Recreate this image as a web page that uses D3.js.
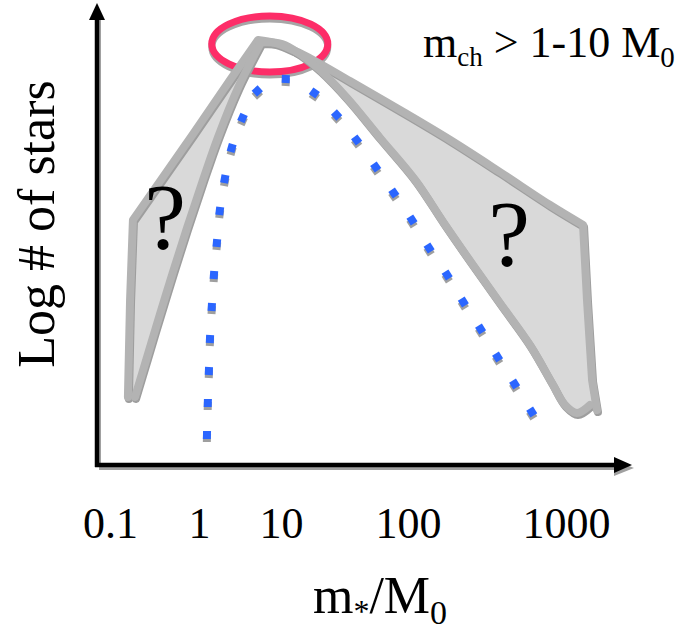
<!DOCTYPE html>
<html><head><meta charset="utf-8">
<script src="https://cdn.jsdelivr.net/npm/d3@7"></script>
<style>body{margin:0;background:#fff}svg{display:block}</style>
</head><body><svg id="c" width="695" height="631"></svg>
<script>
// ---------- data ----------
const tickMasses = [0.1, 1, 10, 100, 1000];
const tickLabels = ["0.1", "1", "10", "100", "1000"];

// outer (flat) envelope of the uncertain IMF band: mass [M0], log N [arb.]
const outerMass = [0.159, 0.168, 0.181, 0.217, 0.857, 2.39, 5.24, 8.45, 12.9, 17.9, 34.9, 86.5, 185, 382, 792, 1282, 1358, 1462, 1570];
const outerLogN = [6.8, 16.5, 24.5, 25.5, 33.1, 38.5, 42.5, 42.2, 41.4, 40.5, 38.4, 35.5, 32.5, 29.3, 26.0, 24.0, 16.5, 8.5, 5.5];

// inner (steep) envelope
const innerMass = [0.191, 0.261, 0.365, 0.510, 0.733, 1.088, 1.71, 2.99, 5.74, 10.2, 14.1, 20.3, 33.1, 60.3, 111, 167, 250, 382, 591, 815, 986, 1174, 1419];
const innerLogN = [6.8, 10.8, 15.1, 19.3, 23.7, 28.2, 32.8, 37.7, 42.3, 42.1, 41.1, 39.5, 36.7, 32.7, 28.5, 24.3, 20.3, 16.2, 12.0, 8.2, 6.0, 5.2, 6.0];

// dotted (present-day) IMF
const dotMass = [1.25, 1.28, 1.32, 1.36, 1.43, 1.52, 1.65, 1.79, 2.06, 2.50, 3.39, 5.14, 10.9, 18.3, 27.4, 39.4, 55.7, 77.4, 106, 136, 177, 224, 288, 369, 473, 607];
const dotLogN = [3.0, 6.2, 9.4, 12.6, 15.8, 19.0, 22.2, 25.4, 28.6, 31.7, 34.7, 37.4, 38.6, 37.2, 35.0, 32.5, 29.8, 27.2, 24.5, 21.7, 19.0, 16.3, 13.6, 10.8, 8.1, 5.3];

// characteristic mass highlight
const peakMass = 7.3, peakLogN = 42.1;
const questionMass = [0.415, 436];
const questionLogN = [21.7, 20.0];

// ---------- scales ----------
const svg = d3.select("#c");
const xs = d3.scaleLinear().domain(tickMasses.map(Math.log10)).range([110, 199, 281, 408, 566]);
const x = m => xs(Math.log10(m));
const y = d3.scaleLinear().domain([0, 46]).range([465, 5]);
const serif = "'Liberation Serif','DejaVu Serif',serif";

// ---------- highlight ellipse ----------
const cx = x(peakMass), cy = y(peakLogN);
svg.append("ellipse").attr("cx", cx).attr("cy", cy + 3).attr("rx", 58).attr("ry", 28)
  .attr("fill", "none").attr("stroke", "#a6a6a6").attr("stroke-width", 7);
svg.append("ellipse").attr("cx", cx).attr("cy", cy).attr("rx", 58).attr("ry", 28)
  .attr("fill", "none").attr("stroke", "#fd2d68").attr("stroke-width", 7);

// ---------- band ----------
const outerPts = outerMass.map((m, i) => [x(m), y(outerLogN[i])]);
const innerPts = innerMass.map((m, i) => [x(m), y(innerLogN[i])]);
const lin = d3.line();
const crv = d3.line().curve(d3.curveCatmullRom.alpha(0.5));
function pieced(pts, pieces) {
  let d = "";
  pieces.forEach(([a, b, c], k) => {
    const s = (c ? crv : lin)(pts.slice(a, b + 1));
    d += k === 0 ? s : "L" + s.slice(1);
  });
  return d;
}
const nI = innerPts.length - 1, peakI = 8;
const outerD = pieced(outerPts, [[0, 3, false], [3, 6, false], [6, 15, true], [15, 18, false]]);
const innerD = pieced(innerPts, [[0, peakI, true], [peakI, nI, true]]);
const innerRevD = pieced(innerPts.slice().reverse(), [[0, nI - peakI, true], [nI - peakI, nI, true]]);
svg.append("path").attr("d", outerD + "L" + innerRevD.slice(1) + "Z")
  .attr("fill", "#d9d9d9");
[outerD, innerD].forEach(d => {
  svg.append("path").attr("d", d).attr("transform", "translate(1,2)")
    .attr("fill", "none").attr("stroke", "#9e9e9e").attr("stroke-width", 8)
    .attr("stroke-linejoin", "round").attr("stroke-linecap", "round");
});
[outerD, innerD].forEach(d => {
  svg.append("path").attr("d", d)
    .attr("fill", "none").attr("stroke", "#b3b3b3").attr("stroke-width", 8)
    .attr("stroke-linejoin", "round").attr("stroke-linecap", "round");
});

// ---------- dots ----------
const dotPts = dotMass.map((m, i) => [x(m), y(dotLogN[i])]);
const ang = dotPts.map((p, i) => {
  const a = dotPts[Math.max(0, i - 1)], b = dotPts[Math.min(dotPts.length - 1, i + 1)];
  return Math.atan2(b[1] - a[1], b[0] - a[0]) * 180 / Math.PI;
});
const dg = svg.append("g");
dotPts.forEach((p, i) => {
  dg.append("rect").attr("x", -4).attr("y", -4).attr("width", 8).attr("height", 8)
    .attr("fill", "#9f9f9f").attr("transform", `translate(${p[0]},${p[1] + 3}) rotate(${ang[i]})`);
  dg.append("rect").attr("x", -4).attr("y", -4).attr("width", 8).attr("height", 8)
    .attr("fill", "#2b66ff").attr("transform", `translate(${p[0]},${p[1]}) rotate(${ang[i]})`);
});

// ---------- question marks ----------
questionMass.forEach((m, i) => {
  svg.append("text").attr("x", x(m)).attr("y", y(questionLogN[i]))
    .attr("text-anchor", "middle").attr("font-family", serif).attr("font-size", 94)
    .attr("fill", "#000").text("?");
});

// ---------- axes ----------
const x0 = 97, yb = y(0);
const ax = svg.append("g");
ax.append("line").attr("x1", x0 + 2).attr("y1", yb + 3).attr("x2", 618).attr("y2", yb + 3)
  .attr("stroke", "#a0a0a0").attr("stroke-width", 4);
ax.append("path").attr("d", `M${634},${yb + 3}L${614},${yb - 5}L${614},${yb + 11}Z`).attr("fill", "#a0a0a0");
ax.append("line").attr("x1", x0 + 2).attr("y1", yb).attr("x2", x0 + 2).attr("y2", 20)
  .attr("stroke", "#a0a0a0").attr("stroke-width", 4);
ax.append("line").attr("x1", x0 - 2).attr("y1", yb).attr("x2", 618).attr("y2", yb)
  .attr("stroke", "#000").attr("stroke-width", 4.5);
ax.append("path").attr("d", `M${632},${yb}L${614},${yb - 8}L${614},${yb + 8}Z`).attr("fill", "#000");
ax.append("line").attr("x1", x0).attr("y1", yb + 2).attr("x2", x0).attr("y2", 18)
  .attr("stroke", "#000").attr("stroke-width", 4.5);
ax.append("path").attr("d", `M${x0},3L${x0 - 8},20L${x0 + 8},20Z`).attr("fill", "#000");

const xAxis = d3.axisBottom(xs).tickValues(tickMasses.map(Math.log10))
  .tickFormat((d, i) => tickLabels[i]).tickSize(0).tickPadding(42);
const gx = svg.append("g").attr("transform", `translate(0,${yb})`).call(xAxis);
gx.select(".domain").remove();
gx.selectAll("text").attr("font-family", serif).attr("font-size", 44).attr("fill", "#000");

const xt = svg.append("text").attr("x", 380).attr("y", 613).attr("text-anchor", "middle")
  .attr("font-family", serif).attr("font-size", 52).attr("fill", "#000");
xt.append("tspan").text("m");
xt.append("tspan").attr("font-size", 32).attr("dy", 9).text("*");
xt.append("tspan").attr("dy", -9).text("/M");
xt.append("tspan").attr("font-size", 34).attr("dy", 11).text("0");

svg.append("text").attr("transform", "translate(54,224) rotate(-90)").attr("text-anchor", "middle")
  .attr("font-family", serif).attr("font-size", 52).attr("fill", "#000").text("Log # of stars");

const tt = svg.append("text").attr("x", 423).attr("y", 57)
  .attr("font-family", serif).attr("font-size", 44).attr("fill", "#000");
tt.append("tspan").text("m");
tt.append("tspan").attr("font-size", 27).attr("dy", 9).text("ch");
tt.append("tspan").attr("dy", -9).text(" > 1-10 M");
tt.append("tspan").attr("font-size", 29).attr("dy", 10).text("0");
</script></body></html>
